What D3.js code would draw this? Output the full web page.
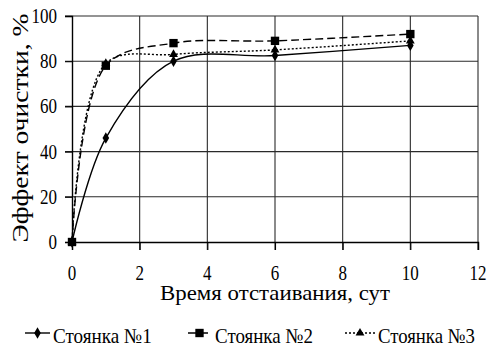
<!DOCTYPE html>
<html>
<head>
<meta charset="utf-8">
<script src="https://cdn.jsdelivr.net/npm/d3@7"></script>
<style>
  html, body { margin: 0; padding: 0; background: #fff; }
  svg { display: block; }
  .serif { font-family: "Liberation Serif", Tinos, "Times New Roman", FreeSerif !important; }
</style>
</head>
<body>
<svg id="chart" width="490" height="347"></svg>
<script>
// Settling time (days) and treatment efficiency (%) for three parking lots
const days = [0, 1, 3, 6, 10];
const lot1 = [0, 46, 80, 82.5, 87];
const lot2 = [0, 78, 88, 89, 92];
const lot3 = [0, 79, 83, 85, 89];
const seriesNames = ["Стоянка №1", "Стоянка №2", "Стоянка №3"];
const xTicks = [0, 2, 4, 6, 8, 10, 12];
const yTicks = [0, 20, 40, 60, 80, 100];
const xTitle = "Время отстаивания, сут";
const yTitle = "Эффект очистки, %";

const FONT = '"Liberation Serif"';
const svg = d3.select("#chart");
const x = d3.scaleLinear().domain([0, 12]).range([72, 478]);
const y = d3.scaleLinear().domain([0, 100]).range([242, 16]);

// Places a text at (px, py), squeezed horizontally so that it spans `width` pixels.
function label(parent, str, px, py, size, width, anchor, rotate) {
  const g = parent.append("g");
  const t = g.append("text").attr("class", "serif").text(str)
    .attr("font-family", FONT)
    .style("font-family", FONT).style("font-size", size + "px")
    .attr("fill", "#000").attr("text-anchor", anchor);
  const natural = t.node().getComputedTextLength() || width;
  const k = Math.min(1.15, Math.max(0.75, width / natural));
  g.attr("transform", `translate(${px},${py})` + (rotate ? ` rotate(${rotate})` : "") + ` scale(${k},1)`);
  return g;
}

// grid
const grid = svg.append("g");
grid.selectAll("line.v").data(xTicks.slice(1)).join("line")
  .attr("x1", d => x(d)).attr("x2", d => x(d))
  .attr("y1", y(100)).attr("y2", y(0) + 8)
  .attr("stroke", "#2a2a2a").attr("stroke-width", 1.1);
grid.selectAll("line.h").data(yTicks.slice(1)).join("line")
  .attr("x1", x(0) - 7).attr("x2", x(12))
  .attr("y1", d => y(d)).attr("y2", d => y(d))
  .attr("stroke", "#2a2a2a").attr("stroke-width", 1.1);

// axes: lines from d3, labels drawn in serif below
const xAxis = svg.append("g").attr("transform", `translate(0,${y(0)})`)
  .call(d3.axisBottom(x).tickValues(xTicks).tickSize(8).tickFormat(""));
const yAxis = svg.append("g").attr("transform", `translate(${x(0)},0)`)
  .call(d3.axisLeft(y).tickValues(yTicks).tickSize(7).tickFormat(""));
[xAxis, yAxis].forEach(a => {
  a.attr("font-family", null);
  a.select(".domain").attr("stroke", "#000").attr("stroke-width", 1.4);
  a.selectAll(".tick line").attr("stroke", "#000").attr("stroke-width", 1.1);
});
const digitW = 8.5;
xTicks.forEach(v => {
  const s = String(v);
  label(svg, s, x(v), 280, 20, s.length * digitW, "middle");
});
yTicks.forEach(v => {
  const s = String(v);
  label(svg, s, 57, y(v) + 7, 20, s.length * digitW, "end");
});

// titles
label(svg, xTitle, x(6), 300, 22, 230, "middle");
label(svg, yTitle, 28, 128, 24, 229, "middle", -90);

// series
const series = [
  { name: seriesNames[0], values: lot1, dash: null, symbol: d3.symbolDiamond, size: 38 },
  { name: seriesNames[1], values: lot2, dash: "8,4", symbol: d3.symbolSquare, size: 70 },
  { name: seriesNames[2], values: lot3, dash: "2,2", symbol: d3.symbolTriangle, size: 34 }
];

const line = d3.line().x(d => x(d[0])).y(d => y(d[1])).curve(d3.curveCatmullRom.alpha(0.5));

series.forEach(s => {
  svg.append("path")
    .datum(days.map((d, i) => [d, s.values[i]]))
    .attr("d", line)
    .attr("fill", "none").attr("stroke", "#000").attr("stroke-width", 1.4)
    .attr("stroke-dasharray", s.dash);
});

const drawOrder = [2, 0, 1];
drawOrder.forEach(k => {
  const s = series[k];
  svg.append("g").selectAll("path").data(days.map((d, i) => [d, s.values[i]])).join("path")
    .attr("transform", d => `translate(${x(d[0])},${y(d[1])})`)
    .attr("d", d3.symbol().type(s.symbol).size(s.size))
    .attr("fill", "#000");
});

// legend
const legendItems = [
  { x0: 25, x1: 50, tx: 53, w: 99 },
  { x0: 188, x1: 211, tx: 215, w: 98 },
  { x0: 345, x1: 375, tx: 378, w: 97 }
];
const ly = 333;
series.forEach((s, i) => {
  const L = legendItems[i];
  svg.append("line").attr("x1", L.x0).attr("x2", L.x1).attr("y1", ly).attr("y2", ly)
    .attr("stroke", "#000").attr("stroke-width", 1.4).attr("stroke-dasharray", s.dash);
  svg.append("path").attr("transform", `translate(${(L.x0 + L.x1) / 2},${ly})`)
    .attr("d", d3.symbol().type(s.symbol).size(s.size)).attr("fill", "#000");
  label(svg, s.name, L.tx, 343, 21, L.w, "start");
});
</script>
</body>
</html>
